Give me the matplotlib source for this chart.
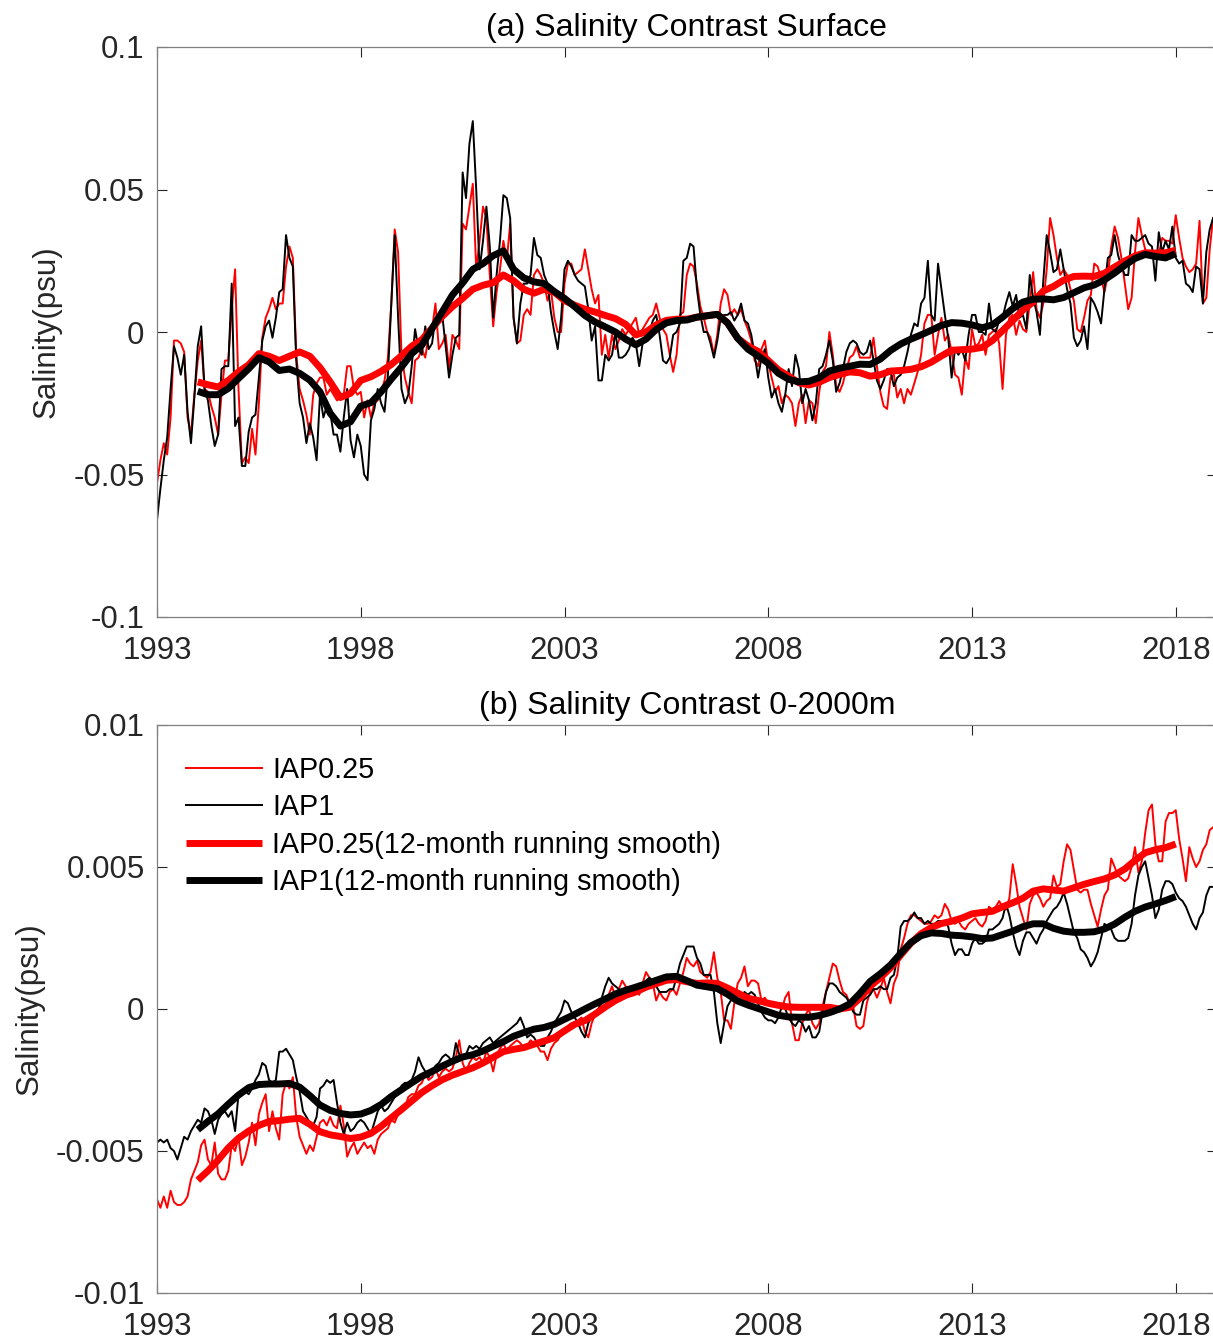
import numpy as np
import matplotlib
matplotlib.use("Agg")
import matplotlib.pyplot as plt

# ---------------- data ----------------
# monthly series Jan 1993 .. Dec 2018
months = 1993 + np.arange(312) / 12.0
# 12-month running smooth, read quarterly 1994.0 .. 2018.0
smooth_t = 1994 + np.arange(97) * 0.25

# Panel (a) surface salinity contrast, units of 1e-3 psu
surf_iap1 = [
    -66, -55, -45, -37, -20, -5, -9, -15, -8, -28, -39, -23,
    -5, 2, -20, -24, -33, -40, -36, -13, -12, -12, 17, -33,
    -30, -47, -47, -35, -30, -29, -16, -3, 2, 4, -2, 5,
    14, 15, 34, 26, 23, -10, -25, -30, -39, -32, -37, -45,
    -22, -30, -26, -28, -36, -36, -42, -30, -20, -38, -44, -36,
    -40, -50, -52, -31, -27, -20, -25, -28, -15, 10, 34, 5,
    -20, -25, -22, -12, 1, -6, -8, 2, -6, -4, 5, 5,
    6, -5, -16, -8, -2, -1, 56, 47, 66, 74, 50, 22,
    32, 44, 30, 5, 20, 32, 48, 47, 40, 5, -4, 10,
    17, 17, 20, 33, 27, 26, 20, 17, 7, 0, -6, 5,
    22, 25, 23, 20, 18, 17, 16, 8, -3, 2, -17, -17,
    -8, -10, -8, 0, -9, -9, -8, -6, -2, -4, -12, -4,
    -1, 0, 4, 6, -1, -10, -11, -9, -1, 0, 3, 25,
    26, 31, 30, 15, 6, 0, 0, -4, -9, -3, 5, 6,
    6, 7, 4, 6, 10, 4, 3, -1, -8, -16, -9, -6,
    -16, -23, -20, -25, -28, -22, -13, -19, -8, -13, -25, -20,
    -24, -31, -25, -13, -12, -8, -3, -10, -21, -18, -13, -7,
    -4, -3, -4, -7, -8, -7, -3, -10, -17, -20, -17, -13,
    -14, -19, -16, -15, -12, -7, -1, 3, 2, 10, 12, 25,
    6, 4, 24, 15, 6, -2, -16, -6, -8, -6, -10, -1,
    6, 6, 0, 0, -1, 10, 1, 0, 4, 5, 10, 14,
    9, 13, 5, 6, 1, 20, 12, 7, -1, 18, 34, 28,
    21, 22, 29, 22, 15, 10, -2, -5, -3, 2, -6, 12,
    10, 7, 3, 15, 26, 27, 34, 27, 23, 20, 20, 34,
    32, 32, 33, 34, 31, 30, 18, 35, 28, 32, 29, 37,
    26, 24, 25, 17, 16, 14, 23, 22, 10, 28, 36, 40,
]
surf_iap025 = [
    -53, -45, -39, -43, -30, -3, -3, -4, -7, -30, -36, -22,
    -10, -3, -20, -21, -26, -30, -36, -22, -10, -10, 8, 22,
    -20, -46, -44, -46, -34, -43, -25, -2, 5, 8, 12, 8,
    10, 10, 23, 30, 26, -8, -20, -24, -29, -36, -22, -18,
    -16, -16, -22, -20, -22, -24, -22, -22, -12, -12, -20, -22,
    -21, -30, -24, -30, -25, -24, -21, -17, -9, 10, 36, 28,
    -8, -16, -21, -25, -10, -9, -6, -9, -1, 1, 10, -6,
    -4, -1, -13, -1, -3, -6, 38, 36, 44, 52, 22, 32,
    44, 40, 20, 2, 14, 22, 32, 25, 38, 5, -4, -3,
    6, 8, 6, 20, 22, 20, 17, 11, 15, 5, 0, 0,
    17, 24, 24, 20, 21, 22, 29, 22, 15, 10, 13, -8,
    -1, -9, -1, -6, -3, 1, -1, 1, 3, 5, -1, 1,
    3, 5, 6, 10, 5, 1, -1, -8, -14, -8, 6, 7,
    20, 24, 23, 17, 9, 5, 0, -2, -8, -1, 10, 15,
    13, 6, 8, 6, 8, 4, 1, -3, -10, -12, -6, -3,
    -11, -16, -21, -19, -25, -22, -23, -25, -33, -25, -22, -32,
    -24, -25, -32, -21, -14, -12, 0, -8, -19, -21, -18, -13,
    -9, -8, -5, -9, -9, -9, -9, -2, -12, -21, -26, -27,
    -16, -15, -23, -20, -25, -20, -22, -18, -14, -8, 3, 6,
    6, -8, -1, 5, -3, -1, -7, -15, -16, -22, -9, -13,
    1, -5, -4, -1, -8, -1, 0, 1, -4, -20, -1, 5,
    6, -1, 4, 1, 0, 10, 21, 8, 5, 10, 22, 40,
    34, 26, 20, 22, 20, 15, 11, 1, 0, 5, 11, 13,
    24, 23, 19, 14, 20, 30, 37, 33, 26, 17, 8, 12,
    28, 40, 34, 29, 27, 28, 27, 27, 33, 32, 32, 31,
    41, 33, 26, 23, 21, 22, 24, 39, 10, 12, 29, 40,
]
surf_iap025_smooth = [
    -17.5, -18.5, -19.3, -17, -14, -11.5, -7.6, -8.5, -10, -8.5, -7, -8.5,
    -12.5, -17.5, -23, -21.5, -17, -15.7, -13.8, -11.4, -8.3, -5, -2.7, 1.4,
    5.5, 8.9, 11.8, 15, 16.4, 17.3, 20, 18, 15, 13.6, 15, 14,
    11, 9.4, 8, 7, 5.8, 4.7, 2.7, -1, 0, 2.5, 4.1, 4.5,
    4.5, 5.2, 5.7, 6.2, 3.2, -2.2, -4.9, -6.8, -10, -13.3, -15.5, -17.8,
    -18.6, -17.6, -16, -14.9, -14, -14.3, -15.5, -15, -13.7, -13.5, -13.1, -12.2,
    -10.6, -8.4, -6.4, -6.2, -6, -5.4, -3, 0.5, 4, 7.7, 10.5, 14.4,
    16, 18.2, 19.5, 19.6, 19.5, 20.6, 22.8, 24.9, 26.7, 27.8, 27.7, 27.8,
    28.7,
]
surf_iap1_smooth = [
    -20.8, -22, -22, -19.8, -16.3, -12.9, -9, -10.5, -13.5, -13, -14.5, -16.9,
    -21, -28.5, -33, -31.5, -26, -24.8, -21, -16.5, -12.3, -7.6, -4.6, 1.2,
    7.1, 13, 17.2, 22, 24, 26.8, 28.5, 22, 19, 17.6, 17, 14.2,
    11.8, 8.9, 5.8, 3.5, 1.8, 0, -2.5, -4.5, -2.5, 0.9, 3.2, 4,
    4.2, 5.2, 5.7, 6.2, 3.2, -2.2, -6, -8.4, -11, -14.5, -16.6, -17.5,
    -17.3, -16, -13.7, -12.7, -12, -11.3, -11.4, -9.5, -6.5, -4.2, -2.5, -1,
    0.6, 2.3, 3.3, 3.1, 2.5, 1.5, 2.5, 5.2, 8.2, 10.5, 11.5, 11.6,
    11.3, 12.1, 13.8, 15.5, 16.5, 18.3, 20.7, 23.4, 25.8, 27.2, 26.5, 26,
    27.5,
]

# Panel (b) 0-2000 m salinity contrast, units of 1e-4 psu
deep_iap1 = [
    -47, -46, -47, -46, -49, -50, -53, -49, -45, -46, -43, -41,
    -39, -40, -35, -36, -39, -44, -39, -37, -36, -38, -36, -43,
    -30, -29, -29, -30, -28, -25, -23, -19, -20, -25, -26, -25,
    -15, -15, -14, -16, -18, -24, -29, -36, -38, -40, -41, -38,
    -28, -27, -25, -26, -25, -33, -40, -44, -40, -43, -42, -40,
    -39, -40, -42, -44, -40, -36, -34, -36, -35, -33, -31, -30,
    -27, -26, -26, -25, -22, -17, -20, -22, -24, -22, -20, -19,
    -17, -16, -17, -19, -12, -16, -17, -16, -13, -14, -13, -14,
    -12, -11, -10, -12, -11, -10, -9, -8, -7, -6, -5, -3,
    -6, -10, -9, -10, -12, -13, -13, -10, -8, -5, -3, -1,
    3, 2, -1, -3, -5, -8, -10, -5, -3, -1, 0, 4,
    8, 11, 9, 8, 7, 5, 5, 6, 6, 7, 8, 9,
    10, 11, 10, 8, 6, 6, 6, 7, 7, 11, 16, 19,
    22, 22, 22, 18, 16, 12, 12, 12, 6, -5, -12, -5,
    1, 3, 4, 5, 4, 6, 5, 6, 5, 2, -1, -3,
    -4, -4, -5, -3, 1, 0, -3, -5, -6, -4, -5, -8,
    -6, -10, -10, -8, -1, 6, 9, 9, 8, 6, 5, 4,
    2, -1, -2, -2, 3, 4, 5, 7, 7, 8, 7, 7,
    11, 12, 18, 29, 31, 31, 32, 34, 32, 32, 30, 31,
    30, 30, 31, 31, 31, 29, 23, 19, 21, 21, 19, 19,
    23, 25, 23, 23, 24, 28, 28, 29, 30, 32, 37, 33,
    27, 22, 19, 24, 27, 27, 25, 23, 26, 28, 31, 33,
    35, 36, 38, 41, 37, 32, 27, 25, 21, 20, 18, 15,
    17, 20, 25, 30, 29, 28, 25, 24, 24, 24, 25, 30,
    40, 47, 50, 52, 46, 40, 32, 35, 42, 45, 45, 44,
    41, 39, 38, 36, 33, 30, 28, 32, 34, 40, 43, 43,
]
deep_iap025 = [
    -67, -70, -66, -70, -64, -68, -69, -69, -68, -66, -60, -57,
    -54, -48, -46, -53, -55, -47, -58, -60, -60, -57, -48, -50,
    -45, -55, -52, -47, -40, -48, -37, -33, -30, -43, -36, -42,
    -46, -30, -26, -28, -24, -38, -45, -48, -51, -48, -50, -45,
    -40, -39, -41, -38, -41, -42, -34, -41, -52, -49, -47, -51,
    -49, -47, -49, -48, -51, -46, -44, -43, -42, -39, -40, -37,
    -35, -35, -31, -30, -30, -27, -26, -23, -25, -24, -21, -24,
    -22, -21, -22, -21, -17, -11, -19, -22, -19, -17, -18, -17,
    -19, -15, -17, -22, -16, -14, -12, -15, -13, -12, -11, -12,
    -14, -13, -11, -12, -13, -15, -15, -18, -14, -12, -11, -9,
    -8, -6, -5, -5, -4, -3, -8, -10, -5, -2, -1, 2,
    4, 5, 8, 4, 7, 10, 8, 5, 6, 6, 5, 9,
    13, 11, 9, 3, 6, 4, 3, 6, 7, 5, 9, 13,
    18, 16, 15, 17, 13, 12, 11, 13, 20, 11, 6, -4,
    -4, -7, 2, 9, 11, 15, 8, 10, 10, 9, 3, 4,
    2, 1, 2, 1, 0, 4, 6, -5, -11, -11, -5, -2,
    0, -5, -7, -5, 1, 6, 11, 16, 15, 10, 6, 5,
    2, 1, -6, -7, -6, 2, 6, 7, 4, 7, 11, 6,
    2, 9, 12, 21, 25, 30, 33, 33, 32, 31, 30, 30,
    31, 33, 32, 33, 37, 35, 31, 30, 31, 29, 28, 30,
    31, 32, 30, 29, 31, 36, 35, 36, 38, 36, 35, 39,
    51, 44, 36, 32, 28, 37, 40, 41, 39, 36, 38, 39,
    47, 43, 44, 52, 58, 56, 49, 42, 41, 42, 42, 37,
    33, 29, 35, 40, 42, 53, 50, 47, 46, 45, 46, 50,
    57, 48, 52, 62, 70, 72, 58, 52, 52, 66, 69, 69,
    70, 60, 53, 45, 57, 53, 50, 52, 56, 58, 63, 64,
]
deep_iap025_smooth = [
    -60.3, -57, -53.2, -48.9, -45.5, -43, -41, -39.6, -39.3, -38.8, -38.5, -40.6,
    -43.2, -44.3, -44.9, -45.6, -45.1, -43.8, -41.3, -38.3, -35.4, -32.4, -29.4, -27,
    -24.9, -23.3, -22, -20.7, -19, -17, -15, -14.2, -13.6, -12.4, -11.3, -10.1,
    -7.7, -5.4, -4.1, -1.8, 0.7, 3, 4.8, 6, 7.7, 8.9, 10.1, 10.4,
    9.6, 9, 9.2, 9, 7.4, 5.6, 3.8, 3, 2, 1.3, 0.7, 0.6,
    0.6, 0.6, 0.6, 0, 0.6, 3.8, 8, 11, 14.5, 19, 23.2, 26.5,
    28.7, 30.1, 30.9, 32, 33.5, 34, 34.4, 36, 37.4, 39, 41.5, 42.3,
    41.9, 41.5, 42.7, 43.9, 44.9, 45.8, 47.2, 49.3, 52.3, 55, 56.1, 56.8,
    58.1,
]
deep_iap1_smooth = [
    -42.5, -39.6, -36.9, -33.5, -30.3, -27.7, -26.6, -26.4, -26.4, -26.2, -27.5, -30.5,
    -33.8, -35.7, -36.8, -37.3, -37, -35.7, -33.6, -30.8, -28.4, -26, -23.7, -22,
    -20.1, -18.4, -16.9, -16.1, -14.8, -13.1, -11.5, -9.6, -8.3, -7.1, -6.5, -5.4,
    -3.6, -1.9, 0, 1.8, 3.5, 5.3, 6.6, 7.7, 8.9, 10.1, 11.3, 11.5,
    10, 8.4, 7.8, 7.2, 5.2, 2.8, 1.4, 0.2, -1, -2.2, -2.8, -2.9,
    -2.9, -2.3, -1.3, 0, 1.8, 5.5, 9.7, 12.4, 15.5, 19.6, 23.4, 25.8,
    26.8, 26.6, 26, 25.8, 25.4, 24.8, 25, 26.2, 27.4, 29, 30, 30,
    28.4, 27.4, 27, 27, 27.2, 28.2, 29.9, 32.3, 34.4, 35.9, 37, 38.2,
    39.6,
]

labels = ["IAP0.25", "IAP1", "IAP0.25(12-month running smooth)",
          "IAP1(12-month running smooth)"]
xticks = [1993, 1998, 2003, 2008, 2013, 2018]
yticks_a = [-0.1, -0.05, 0, 0.05, 0.1]
yticklabels_a = ["-0.1", "-0.05", "0", "0.05", "0.1"]
yticks_b = [-0.01, -0.005, 0, 0.005, 0.01]
yticklabels_b = ["-0.01", "-0.005", "0", "0.005", "0.01"]
titles = ["(a) Salinity Contrast Surface", "(b) Salinity Contrast 0-2000m"]

# ---------------- figure ----------------
plt.rcParams['font.family'] = ['Liberation Sans', 'DejaVu Sans']
W, H = 1213, 1341
fig = plt.figure(figsize=(W / 100, H / 100), dpi=100)

def px_axes(left, top, right, bottom):
    return fig.add_axes([left / W, 1 - bottom / H, (right - left) / W, (bottom - top) / H])

ax_a = px_axes(157, 47, 1216.5, 617)
ax_b = px_axes(157, 725, 1216.5, 1293)

panels = [
    (ax_a, np.array(surf_iap025) * 1e-3, np.array(surf_iap1) * 1e-3,
     np.array(surf_iap025_smooth) * 1e-3, np.array(surf_iap1_smooth) * 1e-3,
     (-0.1, 0.1), yticks_a, yticklabels_a, titles[0]),
    (ax_b, np.array(deep_iap025) * 1e-4, np.array(deep_iap1) * 1e-4,
     np.array(deep_iap025_smooth) * 1e-4, np.array(deep_iap1_smooth) * 1e-4,
     (-0.01, 0.01), yticks_b, yticklabels_b, titles[1]),
]

spine_col = '#262626'
for ax, r, k, rs, ks, ylim, yt, ytl, title in panels:
    l1, = ax.plot(months, r, color='#ff0000', lw=1.4)
    l2, = ax.plot(months, k, color='black', lw=1.4)
    l3, = ax.plot(smooth_t, rs, color='#ff0000', lw=5.0, solid_capstyle='butt')
    l4, = ax.plot(smooth_t, ks, color='black', lw=5.0, solid_capstyle='butt')
    ax.set_xlim(1993, 2019)
    ax.set_ylim(*ylim)
    ax.set_xticks(xticks)
    ax.set_xticklabels([str(v) for v in xticks])
    ax.set_yticks(yt)
    ax.set_yticklabels(ytl)
    ax.tick_params(direction='in', length=7.2, width=0.8, colors=spine_col,
                   labelsize=22.5, top=True, right=True, labelcolor='#262626')
    ax.tick_params(axis='y', pad=9)
    ax.tick_params(axis='x', pad=14)
    for s in ax.spines.values():
        s.set_color('#808080')
        s.set_linewidth(0.9)
    ax.set_ylabel("Salinity(psu)", fontsize=22.6, color='#262626', labelpad=8)
    ax.set_title(title, fontsize=23, color='black', pad=8)

ax_b.legend([l1, l2, l3, l4], labels, loc='upper left',
            bbox_to_anchor=(0.0274, 0.946), frameon=False, fontsize=20.7,
            handlelength=2.64, handletextpad=0.35, labelspacing=0.33,
            borderpad=0, borderaxespad=0)

fig.savefig("out.png", dpi=100)
